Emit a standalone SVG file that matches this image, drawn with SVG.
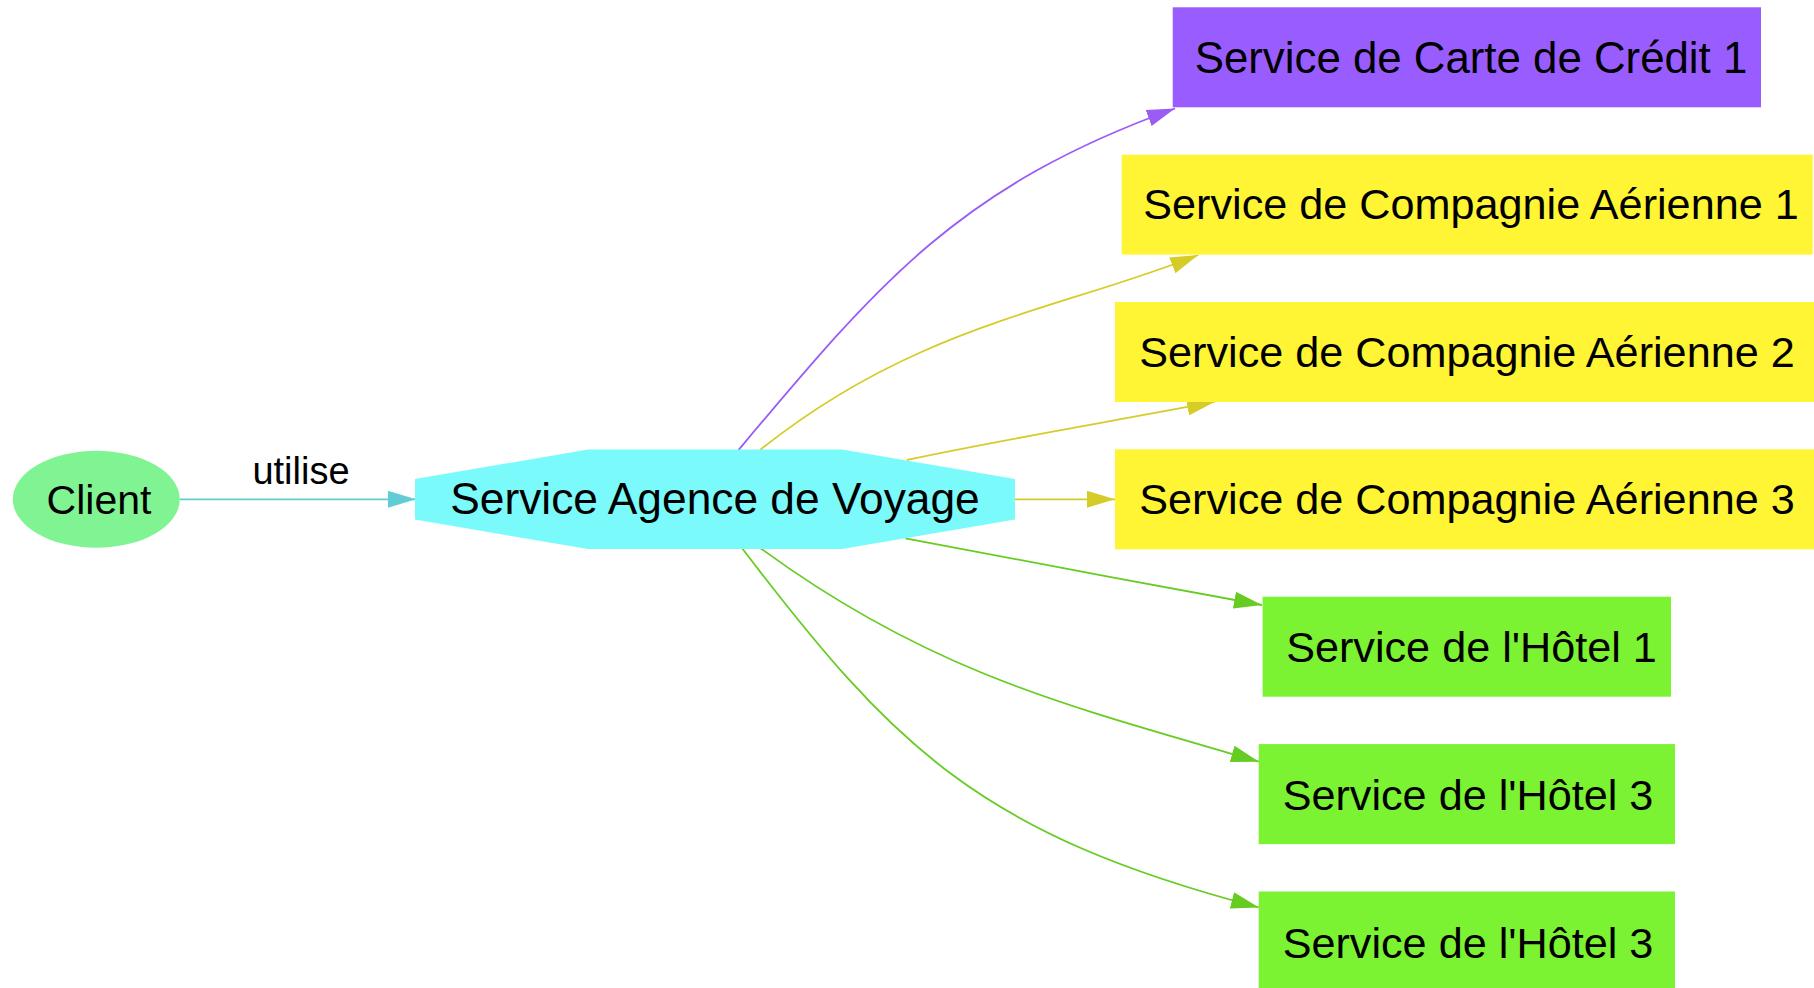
<svg xmlns="http://www.w3.org/2000/svg" width="1814" height="988" viewBox="0 0 1814 988">
<style>
  text { font-family: "Liberation Sans", Arial, sans-serif; fill: #000; text-anchor: middle; }
  .lbl { font-size: 43.2px; }
  .edge { fill: none; stroke-width: 1.8; }
</style>
<defs>
  <marker id="ah-teal" viewBox="0 0 28 17" refX="28" refY="8.5" markerWidth="28" markerHeight="17" markerUnits="userSpaceOnUse" orient="auto"><path d="M0,0 L28,8.5 L0,17 Z" fill="#62ccd4"/></marker>
  <marker id="ah-purple" viewBox="0 0 28 17" refX="28" refY="8.5" markerWidth="28" markerHeight="17" markerUnits="userSpaceOnUse" orient="auto"><path d="M0,0 L28,8.5 L0,17 Z" fill="#9b5cf6"/></marker>
  <marker id="ah-yellow" viewBox="0 0 28 17" refX="28" refY="8.5" markerWidth="28" markerHeight="17" markerUnits="userSpaceOnUse" orient="auto"><path d="M0,0 L28,8.5 L0,17 Z" fill="#d6cc28"/></marker>
  <marker id="ah-green" viewBox="0 0 28 17" refX="28" refY="8.5" markerWidth="28" markerHeight="17" markerUnits="userSpaceOnUse" orient="auto"><path d="M0,0 L28,8.5 L0,17 Z" fill="#66cc22"/></marker>
</defs>
<rect width="1814" height="988" fill="#fff"/>

<g id="connectors">
  <g id="e-client-agence">
    <path class="edge" stroke="#62ccd4" d="M180,499.3 L416,499.3" marker-end="url(#ah-teal)"/>
    <text x="301" y="483.5" style="font-size:38px">utilise</text>
  </g>
  <path id="e-carte1" class="edge" stroke="#9b5cf6" d="M738.5,450 C880,281.5 958.8,186.7 1175,108.5" marker-end="url(#ah-purple)"/>
  <path id="e-air1" class="edge" stroke="#d6cc28" d="M760,450 C916,325 1058.8,310.5 1198.3,255" marker-end="url(#ah-yellow)"/>
  <path id="e-air2" class="edge" stroke="#d6cc28" d="M906.7,460 C1000,440 1120,420 1215,401.7" marker-end="url(#ah-yellow)"/>
  <path id="e-air3" class="edge" stroke="#d6cc28" d="M1015,499.3 L1115,499.3" marker-end="url(#ah-yellow)"/>
  <path id="e-hotel1" class="edge" stroke="#66cc22" d="M905.4,538.3 C1000,556 1150,585 1262,605" marker-end="url(#ah-green)"/>
  <path id="e-hotel3a" class="edge" stroke="#66cc22" d="M760.7,548.3 C930,672.4 1067,705.7 1259,761.7" marker-end="url(#ah-green)"/>
  <path id="e-hotel3b" class="edge" stroke="#66cc22" d="M742.1,548.3 C893.9,747.1 978.6,833.8 1259,907.5" marker-end="url(#ah-green)"/>
</g>

<g id="n-client">
  <ellipse cx="96.3" cy="499.3" rx="83.5" ry="48.5" fill="#80f492"/>
  <text x="99" y="513.5" style="font-size:41px">Client</text>
</g>

<g id="n-agence">
  <polygon points="415,479 588,449.5 842,449.5 1015,479 1015,519.6 842,549.1 588,549.1 415,519.6" fill="#7afafa"/>
  <text x="715" y="514" style="font-size:44.3px">Service Agence de Voyage</text>
</g>

<g id="n-carte1">
  <rect x="1172.7" y="7.3" width="588.3" height="100" fill="#995cff"/>
  <text x="1471" y="73" style="font-size:43.8px">Service de Carte de Crédit 1</text>
</g>

<g id="n-air1">
  <rect x="1121.7" y="154.6" width="691" height="100" fill="#fff535"/>
  <text class="lbl" x="1471" y="219">Service de Compagnie Aérienne 1</text>
</g>

<g id="n-air2">
  <rect x="1115" y="302" width="704" height="100" fill="#fff535"/>
  <text class="lbl" x="1467" y="366.5">Service de Compagnie Aérienne 2</text>
</g>

<g id="n-air3">
  <rect x="1115" y="449.3" width="704" height="100" fill="#fff535"/>
  <text class="lbl" x="1467" y="514">Service de Compagnie Aérienne 3</text>
</g>

<g id="n-hotel1">
  <rect x="1262.6" y="596.7" width="408.4" height="100" fill="#7bf232"/>
  <text class="lbl" x="1471.5" y="662">Service de l'Hôtel 1</text>
</g>

<g id="n-hotel3a">
  <rect x="1258.7" y="744.1" width="416.3" height="100" fill="#7bf232"/>
  <text class="lbl" x="1468" y="809.5">Service de l'Hôtel 3</text>
</g>

<g id="n-hotel3b">
  <rect x="1258.7" y="891.5" width="416.3" height="100" fill="#7bf232"/>
  <text class="lbl" x="1468" y="957.5">Service de l'Hôtel 3</text>
</g>
</svg>
